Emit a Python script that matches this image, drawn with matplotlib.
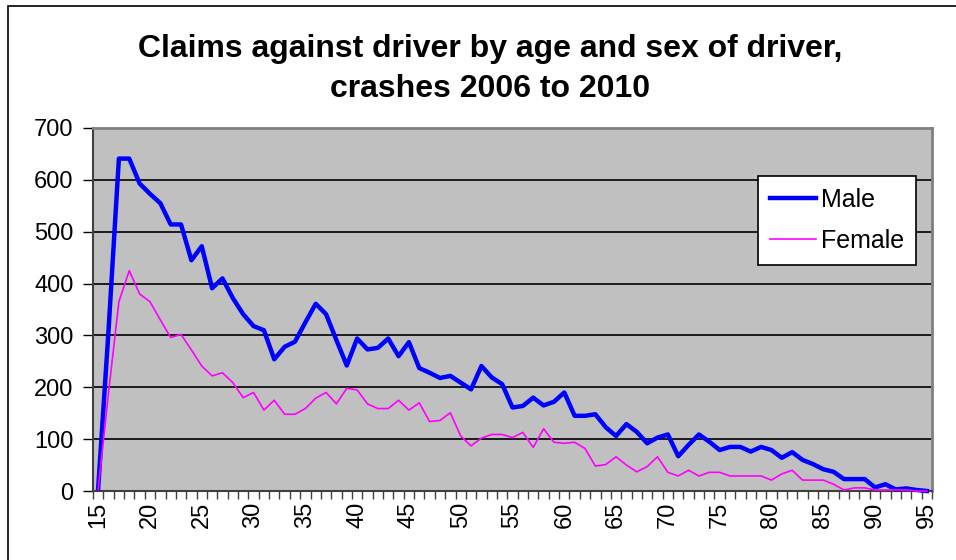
import numpy as np
import matplotlib.pyplot as plt
from matplotlib.patches import Rectangle

plt.rcParams['font.family'] = ['Liberation Sans', 'DejaVu Sans']

# Data
ages = list(range(15, 96))
male = [5, 310, 641, 641, 593, 573, 555, 514, 514, 445,
        472, 391, 410, 372, 341, 318, 310, 254, 278, 288,
        325, 361, 341, 291, 242, 294, 273, 276, 294, 260,
        287, 237, 228, 218, 222, 209, 196, 241, 219, 206,
        161, 164, 180, 165, 172, 190, 145, 145, 148, 123,
        106, 129, 114, 92, 103, 109, 67, 89, 109, 95,
        79, 85, 85, 76, 85, 79, 64, 75, 60, 52,
        42, 37, 23, 23, 23, 7, 13, 3, 5, 2,
        0]
female = [3, 190, 365, 425, 380, 365, 330, 296, 302, 272,
          241, 222, 228, 209, 180, 190, 156, 175, 148, 148,
          159, 179, 190, 168, 198, 195, 168, 159, 159, 175,
          156, 170, 134, 136, 151, 106, 87, 102, 109, 109,
          103, 113, 84, 120, 94, 92, 94, 82, 48, 51,
          66, 50, 37, 47, 66, 36, 29, 40, 29, 36,
          36, 29, 29, 29, 29, 21, 33, 40, 21, 21,
          21, 13, 2, 6, 6, 2, 2, 2, 2, 0,
          0]
yticks = list(range(0, 701, 100))
xlabels = list(range(15, 96, 5))

fig = plt.figure(figsize=(9.56, 5.6), dpi=100)
ax = fig.add_axes([93 / 956, 69 / 560, 839 / 956, 363 / 560])
ax.set_facecolor('#C0C0C0')

# outer chart frame (cut off at right and bottom)
fig.patches.append(Rectangle((8 / 956, -0.2), 1.2, 1.2 - 6 / 560,
                             transform=fig.transFigure, fill=False,
                             edgecolor='black', linewidth=1.2))

ax.plot(ages, male, color='#0000FF', linewidth=3.2, label='Male', zorder=3, clip_on=False)
ax.plot(ages, female, color='#FF00FF', linewidth=1.2, label='Female', zorder=3, clip_on=False)

ax.set_xlim(14.5, 95.5)
ax.set_ylim(0, 700)
ax.set_yticks(yticks)
ax.set_yticklabels([str(v) for v in yticks], fontsize=17)
for v in yticks[1:-1]:
    ax.axhline(v, color='black', linewidth=1.2, zorder=1)

ax.set_xticks(xlabels)
ax.set_xticklabels([str(v) for v in xlabels], rotation=90, fontsize=17)
ax.tick_params(axis='x', which='major', length=0, pad=8)
ax.set_xticks(np.arange(14.5, 96, 1), minor=True)
ax.tick_params(axis='x', which='minor', length=6, width=1, color='#404040')
ax.tick_params(axis='y', length=7, width=1, color='black', pad=7)

for s in ['top', 'right']:
    ax.spines[s].set_color('#808080')
    ax.spines[s].set_linewidth(2)
ax.spines['left'].set_color('#404040')
ax.spines['left'].set_linewidth(1.5)
ax.spines['bottom'].set_color('#404040')
ax.spines['bottom'].set_linewidth(1.5)

fig.text(0.513, 1 - 69 / 560, 'Claims against driver by age and sex of driver,\ncrashes 2006 to 2010',
         ha='center', va='center', fontsize=23, fontweight='bold', linespacing=1.45)

leg = ax.legend(loc='upper left', bbox_to_anchor=((758 - 93) / 839, (491 - 176) / 363),
                fontsize=18, frameon=True, fancybox=False, handlelength=1.85,
                borderpad=0.48, labelspacing=0.68, handletextpad=0.2,
                borderaxespad=0)
leg.get_frame().set_edgecolor('black')
leg.get_frame().set_linewidth(1.2)
leg.get_frame().set_facecolor('white')
leg.get_frame().set_alpha(1)

fig.savefig('out.png', dpi=100)
